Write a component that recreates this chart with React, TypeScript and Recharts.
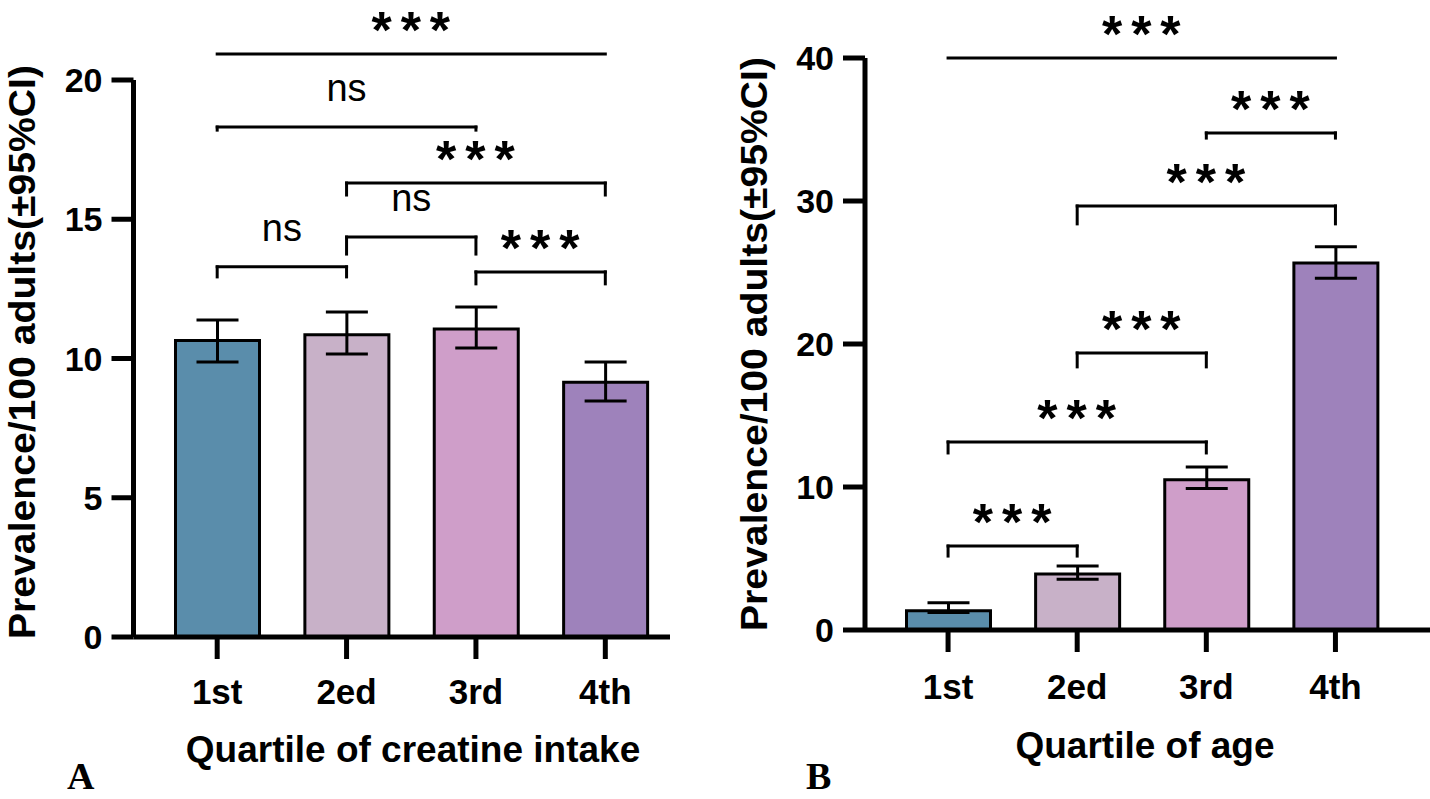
import { BarChart, Bar, XAxis, YAxis, ErrorBar, Cell, ReferenceLine } from "recharts";

const quartiles = ["1st", "2ed", "3rd", "4th"];

// panel A: quartile of creatine intake
const creatineMean = [10.65, 10.85, 11.06, 9.15];
const creatineLow = [9.87, 10.16, 10.38, 8.47];
const creatineHigh = [11.38, 11.67, 11.85, 9.87];
const creatineTicks = [0, 5, 10, 15, 20];

// panel B: quartile of age
const ageMean = [1.35, 3.92, 10.5, 25.66];
const ageLow = [1.22, 3.55, 9.9, 24.6];
const ageHigh = [1.9, 4.48, 11.4, 26.8];
const ageTicks = [0, 10, 20, 30, 40];

const barColors = ["#5a8dab", "#c8b1c8", "#cf9ec9", "#9e82bb"];

// significance brackets: y = bar height of bracket, foot = where the end ticks stop
const creatineComparisons = [
    { from: "1st", to: "4th", y: 20.93, label: "***" },
    { from: "1st", to: "3rd", y: 18.31, foot: 18.2, label: "ns" },
    { from: "2ed", to: "4th", y: 16.3, foot: 15.87, label: "***" },
    { from: "2ed", to: "3rd", y: 14.36, foot: 13.75, label: "ns" },
    { from: "1st", to: "2ed", y: 13.29, foot: 12.93, label: "ns" },
    { from: "3rd", to: "4th", y: 13.11, foot: 12.68, label: "***" },
];

const ageComparisons = [
    { from: "1st", to: "4th", y: 40, label: "***" },
    { from: "3rd", to: "4th", y: 34.76, foot: 34.4, label: "***" },
    { from: "2ed", to: "4th", y: 29.65, foot: 28.4, label: "***" },
    { from: "2ed", to: "3rd", y: 19.37, foot: 18.4, label: "***" },
    { from: "1st", to: "3rd", y: 13.15, foot: 12.38, label: "***" },
    { from: "1st", to: "2ed", y: 5.87, foot: 5.17, label: "***" },
];

const FONT = "'Liberation Sans', Arial, Helvetica, sans-serif";
const SERIF = "'Liberation Serif', 'Times New Roman', serif";

function buildRows(mean: number[], low: number[], high: number[]) {
    return quartiles.map((q, i) => ({
        q,
        v: mean[i],
        err: [mean[i] - low[i], high[i] - mean[i]],
    }));
}

function bracketLabel(text: string) {
    return (props: any) => {
        const vb = props.viewBox || {};
        const x = (vb.x || 0) + (vb.width || 0) / 2;
        const y = vb.y || 0;
        if (text === "ns") {
            return (
                <text x={x} y={y - 26} textAnchor="middle" fontSize={38} fontFamily={FONT} fill="#000">
                    ns
                </text>
            );
        }
        return (
            <text
                x={x + 4}
                y={y - 6}
                textAnchor="middle"
                fontSize={52}
                fontWeight={700}
                letterSpacing={9}
                fontFamily={FONT}
                fill="#000"
            >
                {text}
            </text>
        );
    };
}

function renderBrackets(list: any[]) {
    return list.map((c, i) => [
        <ReferenceLine
            key={`h${i}`}
            segment={[{ x: c.from, y: c.y }, { x: c.to, y: c.y }]}
            stroke="#000"
            strokeWidth={3}
            strokeLinecap="square"
            ifOverflow="visible"
            label={bracketLabel(c.label)}
        />,
        c.foot !== undefined ? (
            <ReferenceLine
                key={`l${i}`}
                segment={[{ x: c.from, y: c.y }, { x: c.from, y: c.foot }]}
                stroke="#000"
                strokeWidth={3}
                strokeLinecap="square"
                ifOverflow="visible"
            />
        ) : null,
        c.foot !== undefined ? (
            <ReferenceLine
                key={`r${i}`}
                segment={[{ x: c.to, y: c.y }, { x: c.to, y: c.foot }]}
                stroke="#000"
                strokeWidth={3}
                strokeLinecap="square"
                ifOverflow="visible"
            />
        ) : null,
    ]);
}

function Panel(props: {
    rows: any[];
    ticks: number[];
    max: number;
    comparisons: any[];
    margin: any;
    yWidth: number;
    padding: any;
    tickGap: number;
}) {
    return (
        <BarChart width={props.margin.w} height={799} data={props.rows} margin={props.margin.m}>
            <XAxis
                dataKey="q"
                height={60}
                padding={props.padding}
                axisLine={{ stroke: "#000", strokeWidth: 5 }}
                tickLine={{ stroke: "#000", strokeWidth: 5 }}
                tickSize={22}
                tickMargin={props.tickGap}
                tick={{ fontSize: 35, fontWeight: 700, fill: "#000", fontFamily: FONT }}
                interval={0}
            />
            <YAxis
                type="number"
                domain={[0, props.max]}
                ticks={props.ticks}
                width={props.yWidth}
                axisLine={{ stroke: "#000", strokeWidth: 5 }}
                tickLine={{ stroke: "#000", strokeWidth: 5 }}
                tickSize={22}
                tickMargin={9}
                tick={{ fontSize: 34, fontWeight: 700, fill: "#000", fontFamily: FONT }}
                interval={0}
            />
            <Bar dataKey="v" barSize={84} stroke="#000" strokeWidth={3} isAnimationActive={false}>
                {props.rows.map((r, i) => (
                    <Cell key={r.q} fill={barColors[i]} />
                ))}
                <ErrorBar dataKey="err" width={21} stroke="#000" strokeWidth={3} direction="y" />
            </Bar>
            {renderBrackets(props.comparisons)}
        </BarChart>
    );
}

export default function App() {
    const rowsA = buildRows(creatineMean, creatineLow, creatineHigh);
    const rowsB = buildRows(ageMean, ageLow, ageHigh);
    return (
        <div style={{ position: "absolute", left: 0, top: 0, width: 1430, height: 799, background: "#fff" }}>
            <div style={{ position: "absolute", left: 0, top: 0 }}>
                <Panel
                    rows={rowsA}
                    ticks={creatineTicks}
                    max={20}
                    comparisons={creatineComparisons}
                    margin={{ w: 700, m: { top: 80, right: 30, bottom: 102, left: 0 } }}
                    yWidth={133.5}
                    padding={{ left: 19, right: 0 }}
                    tickGap={20}
                />
            </div>
            <div style={{ position: "absolute", left: 700, top: 0 }}>
                <Panel
                    rows={rowsB}
                    ticks={ageTicks}
                    max={40}
                    comparisons={ageComparisons}
                    margin={{ w: 730, m: { top: 58, right: 0, bottom: 109, left: 0 } }}
                    yWidth={165}
                    padding={{ left: 18.5, right: 30 }}
                    tickGap={22}
                />
            </div>
            <svg
                width={1430}
                height={799}
                style={{ position: "absolute", left: 0, top: 0, pointerEvents: "none" }}
            >
                <text
                    x={35}
                    y={352}
                    transform="rotate(-90 35 352)"
                    textAnchor="middle"
                    fontSize={36}
                    fontWeight={700}
                    fontFamily={FONT}
                    textLength={574}
                    lengthAdjust="spacingAndGlyphs"
                    fill="#000"
                >
                    Prevalence/100 adults(±95%CI)
                </text>
                <text
                    x={767}
                    y={344}
                    transform="rotate(-90 767 344)"
                    textAnchor="middle"
                    fontSize={36}
                    fontWeight={700}
                    fontFamily={FONT}
                    textLength={574}
                    lengthAdjust="spacingAndGlyphs"
                    fill="#000"
                >
                    Prevalence/100 adults(±95%CI)
                </text>
                <text x={413} y={762} textAnchor="middle" fontSize={37} fontWeight={700} fontFamily={FONT} fill="#000">
                    Quartile of creatine intake
                </text>
                <text x={1145} y={758} textAnchor="middle" fontSize={37} fontWeight={700} fontFamily={FONT} fill="#000">
                    Quartile of age
                </text>
                <text x={67} y={789} fontSize={38} fontWeight={700} fontFamily={SERIF} fill="#000">
                    A
                </text>
                <text x={806} y={789} fontSize={38} fontWeight={700} fontFamily={SERIF} fill="#000">
                    B
                </text>
            </svg>
        </div>
    );
}
